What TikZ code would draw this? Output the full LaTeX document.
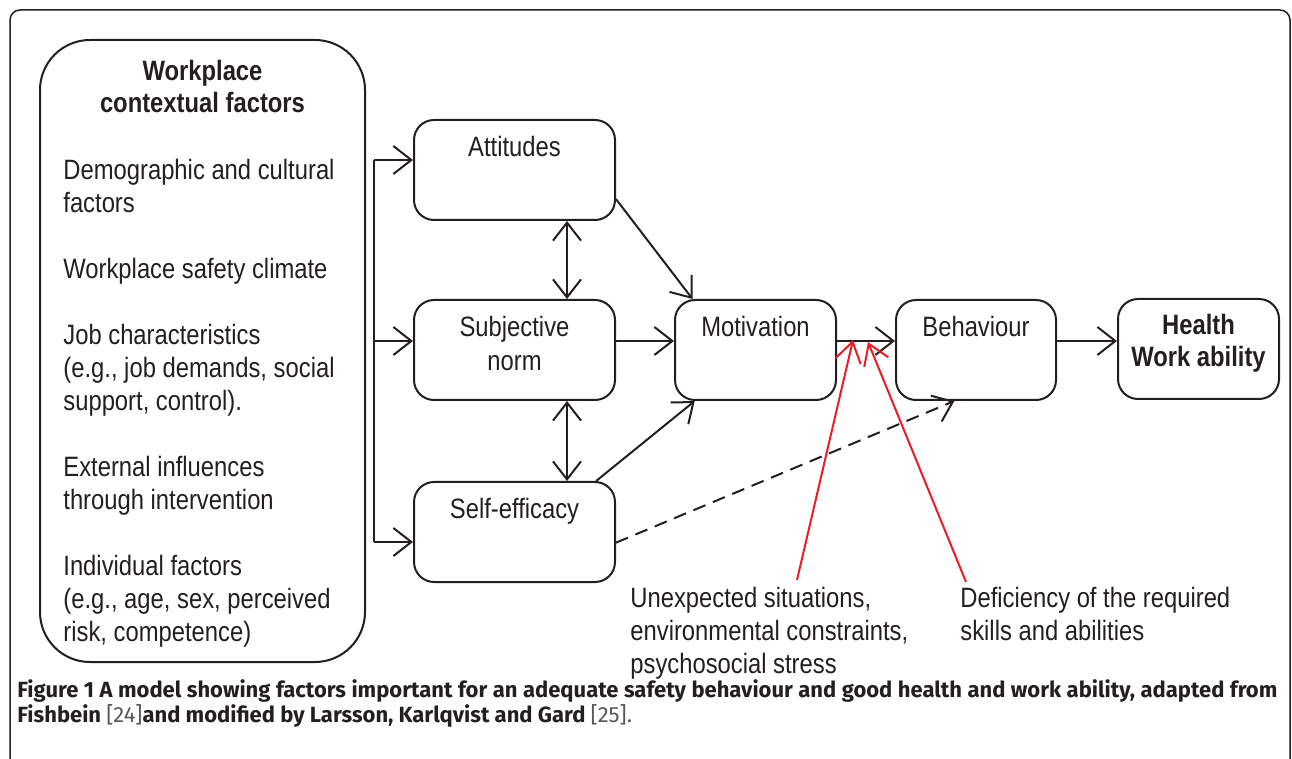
\documentclass[tikz,border=0pt]{standalone}
\usepackage{fontspec}
\usetikzlibrary{arrows.meta,positioning}
\newfontfamily\diagfont[FakeStretch=0.85]{Liberation Sans}
\newfontfamily\captionfont{Fira Sans}
\definecolor{ink}{RGB}{35,31,32}
\definecolor{hazardred}{RGB}{237,28,36}
\newcommand{\boxfont}{\diagfont\fontsize{14pt}{17pt}\selectfont}
\tikzset{
  factorbox/.style={draw=ink, line width=1pt, rounded corners=10pt,
    minimum width=100.5pt, minimum height=50pt, inner sep=0pt},
  boxtext/.style={anchor=north, yshift=-8.5pt, inner sep=0pt, align=center, text=ink, font=\boxfont},
  wire/.style={draw=ink, line width=1pt},
  flow/.style={wire, -{Straight Barb[length=9pt,width=14pt]}},
  twoway/.style={wire, {Straight Barb[length=9pt,width=14pt]}-{Straight Barb[length=9pt,width=14pt]}},
  hazard/.style={draw=hazardred, line width=1pt, -{Straight Barb[length=10pt,width=13pt]}},
  plaintext/.style={anchor=north west, inner sep=0pt, align=left, text=ink,
    font=\diagfont\fontsize{14pt}{16.5pt}\selectfont},
  captionline/.style={anchor=base west, inner sep=0pt, text=ink,
    font=\captionfont\bfseries\fontsize{11pt}{13pt}\selectfont}
}

\begin{document}
\begin{tikzpicture}[x=0.5pt,y=-0.5pt]
        \useasboundingbox (0,0) rectangle (1292,759);
        % frame of the figure
        \draw[ink, line width=0.75pt, rounded corners=5pt] (10,800) -- (10,10) -- (1290,10) -- (1290,800);

        % contextual factors
        \node (context) [draw=ink, line width=1pt, rounded corners=25pt,
          minimum width=162.5pt, minimum height=311pt, inner sep=0pt] at (202.5,351) {};
        \node (contexttitle) [boxtext, yshift=8.5pt, font=\diagfont\bfseries\fontsize{14pt}{16pt}\selectfont]
          at (202.5,59.5) {Workplace\\contextual factors};
        \node (factorlist) [plaintext] at (63,158.5) {Demographic and cultural\\
          factors\\[16.5pt]
          Workplace safety climate\\[16.5pt]
          Job characteristics\\
          (e.g., job demands, social\\
          support, control).\\[16.5pt]
          External influences\\
          through intervention\\[16.5pt]
          Individual factors\\
          (e.g., age, sex, perceived\\
          risk, competence)};

        % model
        \node (att) [factorbox, label={[boxtext]above:Attitudes}] at (514.5,170) {};
        \node (subj) [factorbox, label={[boxtext]above:Subjective\\norm}] at (514.5,350) {};
        \node (self) [factorbox, label={[boxtext]above:Self-efficacy}] at (514.5,532) {};
        \node (mot) [factorbox, minimum width=80.5pt, label={[boxtext]above:Motivation}] at (755.5,350) {};
        \node (beh) [factorbox, minimum width=80pt, label={[boxtext]above:Behaviour}] at (976,350) {};
        \node (health) [factorbox, minimum width=80.5pt,
          label={[boxtext, yshift=0.5pt, font=\diagfont\bfseries\fontsize{14pt}{16pt}\selectfont]above:Health\\Work ability}] at (1198.5,349) {};

        % barriers
        \node (stress) [plaintext] at (630,586.5) {Unexpected situations,\\environmental constraints,\\psychosocial stress};
        \node (skills) [plaintext] at (960,586.5) {Deficiency of the required\\skills and abilities};

        \coordinate (bustop) at (374,160);
        \coordinate (busmid) at (374,341);
        \coordinate (busbot) at (374,542);
        \coordinate (stressfoot) at (797,580);
        \coordinate (stresstip) at (853,340);
        \coordinate (skillsfoot) at (966,582);
        \coordinate (skillstip) at (868,342);

        \draw[wire] (bustop) -- (busbot);
        \draw[flow] (bustop) -- (bustop -| att.west);
        \draw[flow] (busmid) -- (busmid -| subj.west);
        \draw[flow] (busbot) -- (busbot -| self.west);
        \draw[twoway] ([xshift=26.25pt]att.south) -- ([xshift=26.25pt]subj.north);
        \draw[twoway] ([xshift=26.25pt]subj.south) -- ([xshift=26.25pt]self.north);
        \draw[flow] (att.-16.5) -- (mot.141);
        \draw[flow] (subj.east |- busmid) -- (mot.west |- busmid);
        \draw[flow] (self.32) -- (mot.220);
        \draw[flow] (mot.east |- busmid) -- (beh.west |- busmid);
        \draw[flow] (beh.east |- busmid) -- (health.west |- busmid);
        \draw[flow, dash pattern=on 6.5pt off 4pt] (self.-6) -- (beh.247);
        \draw[hazard] (stressfoot) -- (stresstip);
        \draw[hazard] (skillsfoot) -- (skillstip);

        % caption
        \node (captionone) [captionline] at (17,697)
          {\makebox[630pt][s]{Figure 1 A model showing factors important for an adequate safety behaviour and good health and work ability, adapted from}};
        \node (captiontwo) [captionline] at (17,722)
          {Fishbein {\mdseries\color{ink!75}[24]}and modified by Larsson, Karlqvist and Gard {\mdseries\color{ink!75}[25].}};
\end{tikzpicture}
\end{document}
